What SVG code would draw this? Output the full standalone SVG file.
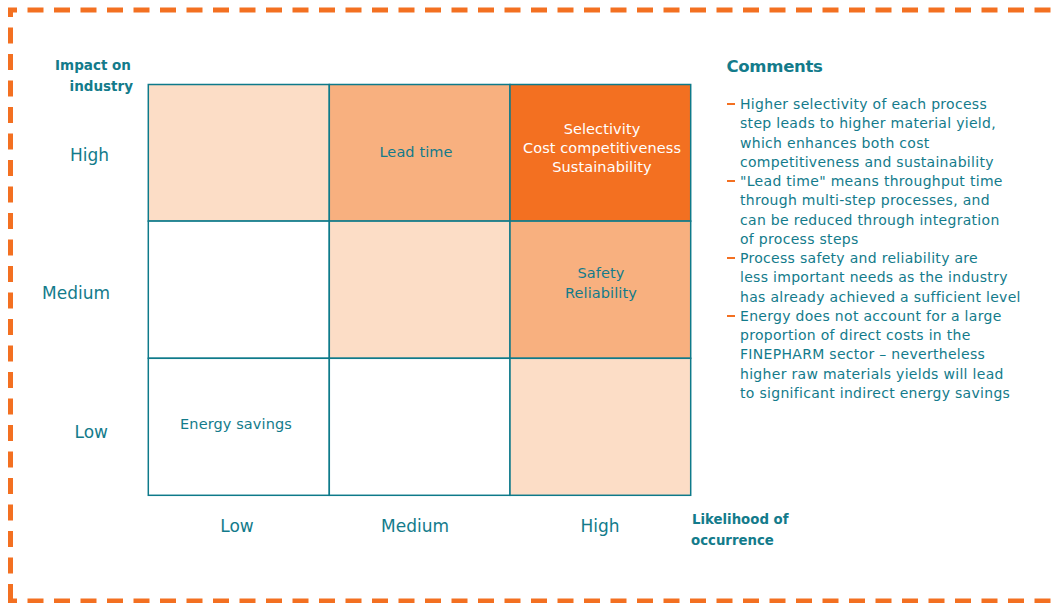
<svg xmlns="http://www.w3.org/2000/svg" width="1056" height="603" viewBox="0 0 1056 603">
<style>
text{font-family:"DejaVu Sans","Liberation Sans",sans-serif;fill:#137B8B}
.cell{stroke:#0E7A8A;stroke-width:1.5}
.light{fill:#FCDDC6}
.mid{fill:#F8B07F}
.dark{fill:#F37021}
.white{fill:#FFFFFF}
.ct{font-size:14.5px;letter-spacing:0.1px;text-anchor:middle}
.ax{font-size:17px}
.bold{font-weight:bold}
.cm{font-size:14px;letter-spacing:0.3px}
.border{stroke:#F37021;stroke-width:5;fill:none;stroke-dasharray:16 10.5;stroke-dashoffset:7}
.bul{stroke:#F37021;stroke-width:2}
</style>
<rect width="1056" height="603" fill="#FFFFFF"/>
<g id="border">
<line class="border" x1="8" y1="10" x2="1056" y2="10"/>
<line class="border" x1="10.5" y1="8" x2="10.5" y2="603"/>
<line class="border" x1="8" y1="601" x2="1056" y2="601"/>
</g>
<g id="axis-labels">
<text class="bold" x="93" y="70" font-size="13.5" text-anchor="middle">Impact on</text>
<text class="bold" x="133" y="90.5" font-size="13.5" text-anchor="end">industry</text>
<text class="ax" x="109" y="161" text-anchor="end">High</text>
<text class="ax" x="110" y="299" text-anchor="end">Medium</text>
<text class="ax" x="108" y="438" text-anchor="end">Low</text>
<text class="ax" x="237" y="532" text-anchor="middle">Low</text>
<text class="ax" x="415" y="532" text-anchor="middle">Medium</text>
<text class="ax" x="600" y="532" text-anchor="middle">High</text>
<text class="bold" x="692" y="524" font-size="13.3">Likelihood of</text>
<text class="bold" x="691" y="545" font-size="13.3">occurrence</text>
</g>
<g id="cell-high-low"><rect class="cell light" x="148.3" y="84.5" width="181" height="136.6"/></g>
<g id="cell-high-medium"><rect class="cell mid" x="329.3" y="84.5" width="180.7" height="136.6"/>
<text class="ct" x="416" y="157">Lead time</text></g>
<g id="cell-high-high"><rect class="cell dark" x="510" y="84.5" width="180.7" height="136.6"/>
<text class="ct" x="602" y="134" style="fill:#FFFFFF">Selectivity</text>
<text class="ct" x="602" y="153" style="fill:#FFFFFF">Cost competitiveness</text>
<text class="ct" x="602" y="172" style="fill:#FFFFFF">Sustainability</text></g>
<g id="cell-medium-low"><rect class="cell white" x="148.3" y="221.1" width="181" height="137.2"/></g>
<g id="cell-medium-medium"><rect class="cell light" x="329.3" y="221.1" width="180.7" height="137.2"/></g>
<g id="cell-medium-high"><rect class="cell mid" x="510" y="221.1" width="180.7" height="137.2"/>
<text class="ct" x="601" y="278">Safety</text>
<text class="ct" x="601" y="298">Reliability</text></g>
<g id="cell-low-low"><rect class="cell white" x="148.3" y="358.3" width="181" height="137"/>
<text class="ct" x="236" y="429">Energy savings</text></g>
<g id="cell-low-medium"><rect class="cell white" x="329.3" y="358.3" width="180.7" height="137"/></g>
<g id="cell-low-high"><rect class="cell light" x="510" y="358.3" width="180.7" height="137"/></g>
<g id="comments">
<text class="bold" x="726.5" y="72" font-size="16.5" letter-spacing="-0.3">Comments</text>
<line class="bul" x1="727" y1="104" x2="735" y2="104"/>
<line class="bul" x1="727" y1="181" x2="735" y2="181"/>
<line class="bul" x1="727" y1="258" x2="735" y2="258"/>
<line class="bul" x1="727" y1="316" x2="735" y2="316"/>
<text class="cm" x="740" y="109">
<tspan x="740" y="109">Higher selectivity of each process</tspan>
<tspan x="740" y="128.25">step leads to higher material yield,</tspan>
<tspan x="740" y="147.5">which enhances both cost</tspan>
<tspan x="740" y="166.75">competitiveness and sustainability</tspan>
<tspan x="740" y="186">"Lead time" means throughput time</tspan>
<tspan x="740" y="205.25">through multi-step processes, and</tspan>
<tspan x="740" y="224.5">can be reduced through integration</tspan>
<tspan x="740" y="243.75">of process steps</tspan>
<tspan x="740" y="263">Process safety and reliability are</tspan>
<tspan x="740" y="282.25">less important needs as the industry</tspan>
<tspan x="740" y="301.5">has already achieved a sufficient level</tspan>
<tspan x="740" y="320.75">Energy does not account for a large</tspan>
<tspan x="740" y="340">proportion of direct costs in the</tspan>
<tspan x="740" y="359.25">FINEPHARM sector – nevertheless</tspan>
<tspan x="740" y="378.5">higher raw materials yields will lead</tspan>
<tspan x="740" y="397.75">to significant indirect energy savings</tspan>
</text>
</g>
</svg>
